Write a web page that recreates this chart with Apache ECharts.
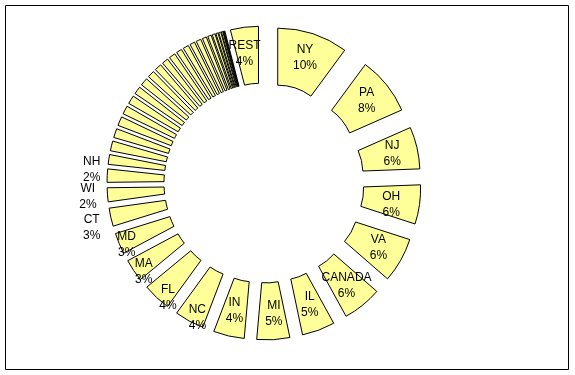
<!DOCTYPE html>
<html><head><meta charset="utf-8">
<script src="https://cdn.jsdelivr.net/npm/echarts@6/dist/echarts.min.js"></script>
<style>html,body{margin:0;padding:0;background:#fff}#chart{width:575px;height:375px}</style>
</head><body><div id="chart"></div>
<script>
// Labelled slices, clockwise from 12 o'clock
const stateNames = ['NY','PA','NJ','OH','VA','CANADA','IL','MI','IN','NC','FL','MA','MD','CT','WI','NH'];
const stateValues = [10.1, 8.3, 6.0, 5.6, 6.4, 5.6, 4.7, 4.7, 4.4, 4.2, 4.0, 3.2, 3.0, 2.6, 2.0, 1.9];
// Small unlabelled slices following NH
const otherValues = [1.4, 1.4, 1.3, 1.3, 1.2, 1.2, 1.1, 1.1, 1.0, 1.0, 0.9, 0.9, 0.8, 0.8, 0.7, 0.7, 0.6, 0.5, 0.4, 0.3, 0.3, 0.2, 0.1, 0.1];
// Last slice
const restName = 'REST';
const restValue = 4.0;

// label nudges (layout only)
const labelNudge = { OH: [-3, 4], IL: [0, -2], MI: [2, -1], NC: [-4, 19], FL: [-6, 19], MA: [-11, 15], MD: [-16, 11], CT: [-44, 16], WI: [-45, 4], NH: [-41, -7], REST: [-3, 1] };

const fill = '#ffff99';
const data = [];
stateNames.forEach((n, i) => data.push({ name: n, value: stateValues[i], selected: true }));
otherValues.forEach((v, i) => data.push({ name: 'other' + (i + 1), value: v, selected: true, label: { show: false } }));
data.push({ name: restName, value: restValue, selected: true });

const chart = echarts.init(document.getElementById('chart'), null, { renderer: 'canvas' });
chart.setOption({
  animation: false,
  backgroundColor: '#ffffff',
  graphic: [{
    type: 'rect', shape: { x: 5.5, y: 5.5, width: 563, height: 364 },
    style: { fill: 'none', stroke: '#000', lineWidth: 1 }, silent: true
  }],
  series: [{
    type: 'pie',
    center: [264, 183],
    radius: [56, 113],
    startAngle: 90,
    clockwise: true,
    avoidLabelOverlap: false,
    selectedMode: 'multiple',
    selectedOffset: 44,
    minShowLabelAngle: 0,
    itemStyle: { color: fill, borderColor: '#000', borderWidth: 1 },
    select: { itemStyle: { color: fill, borderColor: '#000', borderWidth: 1 }, label: { color: '#000' } },
    emphasis: { disabled: true },
    label: {
      show: true, position: 'inside', color: '#000',
      fontFamily: 'Liberation Sans, Arial, sans-serif', fontSize: 12, lineHeight: 16,
      formatter: p => p.name + '\n' + Math.round(p.percent) + '%'
    },
    labelLine: { show: false },
    labelLayout: p => {
      const n = data[p.dataIndex].name;
      const d = labelNudge[n];
      return d ? { dx: d[0], dy: d[1] } : {};
    },
    data: data
  }]
});
</script>
</body></html>
